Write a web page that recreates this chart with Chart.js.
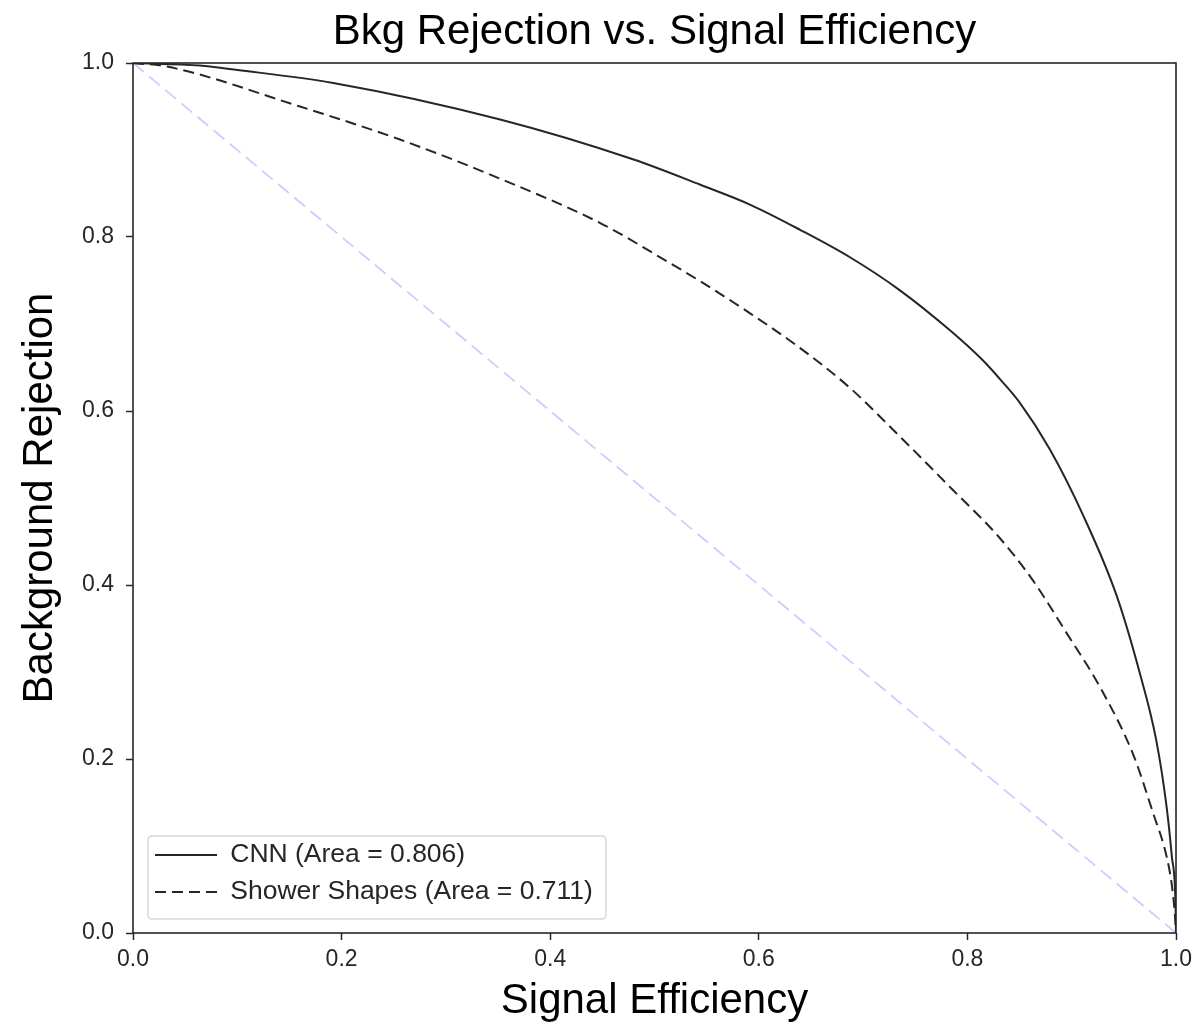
<!DOCTYPE html>
<html>
<head>
<meta charset="utf-8">
<script src="https://cdn.jsdelivr.net/npm/chart.js@4/dist/chart.umd.min.js"></script>
<style>
  html, body { margin: 0; padding: 0; background: #ffffff; }
  canvas { display: block; }
</style>
</head>
<body>
<canvas id="c" width="1198" height="1029"></canvas>
<script>
// ---- Data ----
const chartTitle = 'Bkg Rejection vs. Signal Efficiency';
const xAxisTitle = 'Signal Efficiency';
const yAxisTitle = 'Background Rejection';
const xTickLabels = ['0.0', '0.2', '0.4', '0.6', '0.8', '1.0'];
const yTickLabels = ['0.0', '0.2', '0.4', '0.6', '0.8', '1.0'];

const cnnLabel = 'CNN (Area = 0.806)';
const cnnEff = [0, 0.064, 0.100, 0.192, 0.352, 0.480, 0.544, 0.592, 0.640, 0.687, 0.735, 0.783, 0.815, 0.831, 0.850, 0.879, 0.911, 0.943, 0.965, 0.981, 0.991, 0.996, 0.9995, 1.0];
const cnnRej = [1.0, 0.997, 0.992, 0.977, 0.935, 0.889, 0.860, 0.837, 0.808, 0.777, 0.739, 0.693, 0.658, 0.637, 0.610, 0.556, 0.480, 0.388, 0.300, 0.222, 0.145, 0.088, 0.035, 0.0];

const showerLabel = 'Shower Shapes (Area = 0.711)';
const showerEff = [0, 0.032, 0.160, 0.256, 0.352, 0.448, 0.512, 0.544, 0.592, 0.640, 0.687, 0.735, 0.783, 0.831, 0.863, 0.895, 0.927, 0.959, 0.978, 0.991, 0.996, 0.999, 1.0];
const showerRej = [1.0, 0.996, 0.950, 0.912, 0.867, 0.816, 0.772, 0.749, 0.712, 0.672, 0.627, 0.571, 0.513, 0.454, 0.405, 0.345, 0.283, 0.205, 0.138, 0.088, 0.055, 0.020, 0.0];

const diagEff = [0, 1];
const diagRej = [1, 0];

// ---- Build ----
const toPts = (xs, ys) => xs.map((x, i) => ({ x: x, y: ys[i] }));
const FONT = "'Liberation Sans', Arial, Helvetica, sans-serif";
const INK = '#262626';
const LEGEND_FS = 26.5;

const framePlugin = {
  id: 'frameAndLegendBox',
  afterLayout(chart) {
    const lg = chart.legend;
    const a = chart.chartArea;
    if (lg) {
      lg.left = a.left + 11.5;
      lg.top = a.bottom - 101.75;
      lg.right = a.right;
      lg.bottom = a.bottom;
      lg.width = lg.right - lg.left;
      lg.height = lg.bottom - lg.top;
    }
  },
  beforeDraw(chart) {
    const lg = chart.legend;
    if (!lg) return;
    const ctx = chart.ctx;
    const lo = lg.options.labels;
    const fs = lo.font.size;
    ctx.save();
    ctx.font = fs + 'px ' + FONT;
    let maxW = 0;
    (lg.legendItems || []).forEach(it => { maxW = Math.max(maxW, ctx.measureText(it.text).width); });
    const textStart = lg.left + lo.padding + lo.pointStyleWidth + fs / 2;
    const x0 = lg.left + 3.5, y0 = lg.top + 4.75;
    const x1 = textStart + maxW + 13, y1 = y0 + 83;
    const r = 4;
    ctx.beginPath();
    ctx.moveTo(x0 + r, y0);
    ctx.lineTo(x1 - r, y0); ctx.quadraticCurveTo(x1, y0, x1, y0 + r);
    ctx.lineTo(x1, y1 - r); ctx.quadraticCurveTo(x1, y1, x1 - r, y1);
    ctx.lineTo(x0 + r, y1); ctx.quadraticCurveTo(x0, y1, x0, y1 - r);
    ctx.lineTo(x0, y0 + r); ctx.quadraticCurveTo(x0, y0, x0 + r, y0);
    ctx.closePath();
    ctx.fillStyle = 'rgba(255,255,255,0.8)';
    ctx.fill();
    ctx.strokeStyle = '#d9d9d9';
    ctx.lineWidth = 1.5;
    ctx.stroke();
    ctx.restore();
  },
  afterDraw(chart) {
    const a = chart.chartArea;
    const ctx = chart.ctx;
    ctx.save();
    ctx.strokeStyle = INK;
    ctx.lineWidth = 1.6;
    ctx.strokeRect(a.left, a.top, a.right - a.left, a.bottom - a.top);
    ctx.restore();
  }
};

new Chart(document.getElementById('c'), {
  type: 'scatter',
  data: {
    datasets: [
      {
        label: cnnLabel,
        data: toPts(cnnEff, cnnRej),
        showLine: true,
        borderColor: INK,
        backgroundColor: INK,
        borderWidth: 2,
        pointRadius: 0,
        pointHoverRadius: 0,
        cubicInterpolationMode: 'monotone',
        fill: false
      },
      {
        label: showerLabel,
        data: toPts(showerEff, showerRej),
        showLine: true,
        borderColor: INK,
        backgroundColor: INK,
        borderWidth: 2,
        borderDash: [11, 6],
        pointRadius: 0,
        pointHoverRadius: 0,
        cubicInterpolationMode: 'monotone',
        fill: false
      },
      {
        label: 'diagonal',
        data: toPts(diagEff, diagRej),
        showLine: true,
        borderColor: 'rgba(0,0,255,0.2)',
        backgroundColor: 'rgba(0,0,255,0.2)',
        borderWidth: 1.8,
        borderDash: [14, 7],
        pointRadius: 0,
        pointHoverRadius: 0,
        fill: false
      }
    ]
  },
  options: {
    responsive: false,
    animation: false,
    events: [],
    layout: { padding: { top: 0, right: 22, bottom: 0, left: 0 } },
    plugins: {
      title: {
        display: true,
        text: chartTitle,
        fullSize: false,
        color: '#000',
        font: { family: FONT, size: 42, weight: 'normal', lineHeight: 1.2 },
        padding: { top: 7, bottom: 5.6 }
      },
      legend: {
        display: true,
        position: 'chartArea',
        align: 'start',
        labels: {
          filter: (item) => item.datasetIndex !== 2,
          generateLabels: (chart) => {
            const items = Chart.defaults.plugins.legend.labels.generateLabels(chart);
            return items.map(it => {
              const ds = chart.data.datasets[it.datasetIndex];
              it.lineDash = ds.borderDash || [];
              it.lineWidth = ds.borderWidth;
              it.strokeStyle = ds.borderColor;
              return it;
            });
          },
          usePointStyle: true,
          pointStyle: 'line',
          pointStyleWidth: 62,
          boxHeight: LEGEND_FS,
          padding: 10.5,
          color: INK,
          font: { family: FONT, size: LEGEND_FS }
        }
      },
      tooltip: { enabled: false }
    },
    scales: {
      x: {
        type: 'linear',
        min: 0,
        max: 1,
        afterFit: (s) => { s.height = 96; },
        border: { display: false },
        grid: { display: true, drawOnChartArea: false, drawTicks: true, tickLength: 7, tickColor: INK, tickWidth: 1.5 },
        ticks: {
          stepSize: 0.2,
          padding: 6,
          color: INK,
          font: { family: FONT, size: 23 },
          maxRotation: 0,
          callback: (v, i) => xTickLabels[i]
        },
        title: {
          display: true,
          text: xAxisTitle,
          color: '#000',
          font: { family: FONT, size: 42, lineHeight: 1.2 },
          padding: { top: 0, bottom: 2 }
        }
      },
      y: {
        type: 'linear',
        min: 0,
        max: 1,
        afterFit: (s) => { s.width = 133; },
        border: { display: false },
        grid: { display: true, drawOnChartArea: false, drawTicks: true, tickLength: 7, tickColor: INK, tickWidth: 1.5 },
        ticks: {
          stepSize: 0.2,
          padding: 12,
          color: INK,
          font: { family: FONT, size: 23 },
          callback: (v, i) => yTickLabels[i]
        },
        title: {
          display: true,
          text: yAxisTitle,
          color: '#000',
          font: { family: FONT, size: 42, lineHeight: 1.2 },
          padding: { top: 15, bottom: 0 }
        }
      }
    }
  },
  plugins: [framePlugin]
});
</script>
</body>
</html>
